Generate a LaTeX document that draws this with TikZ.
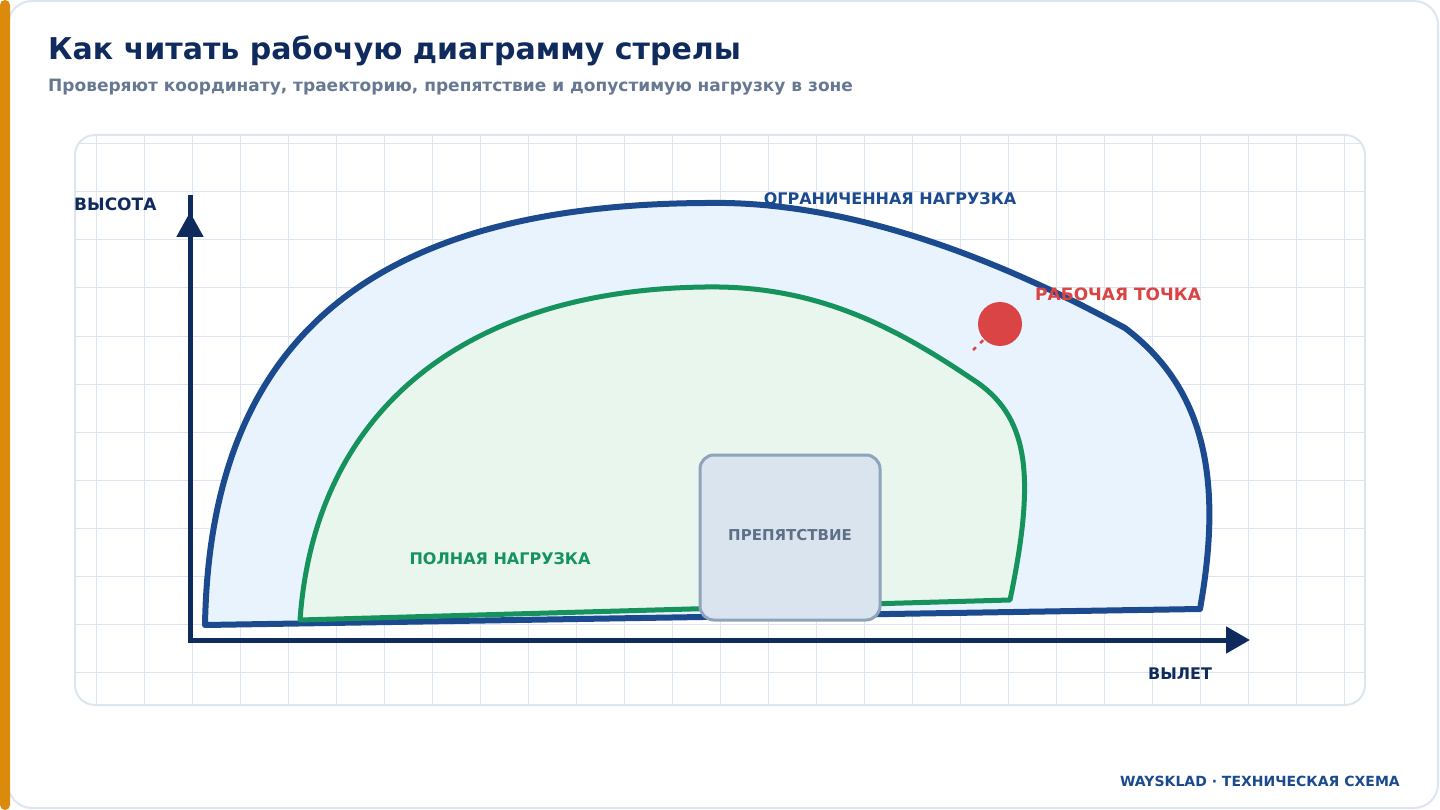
\documentclass[tikz,border=0pt]{standalone}
\usepackage{fontspec}
\setmainfont{DejaVu Sans}
\usetikzlibrary{arrows.meta,positioning}
\definecolor{navy}{HTML}{0F2A5C}
\definecolor{zoneblue}{HTML}{1B4A8F}
\definecolor{zonebluefill}{HTML}{E8F3FD}
\definecolor{zonegreen}{HTML}{16925D}
\definecolor{zonegreenfill}{HTML}{E8F6EE}
\definecolor{gridcol}{HTML}{DCE5F0}
\definecolor{obstfill}{HTML}{DAE4EF}
\definecolor{obstdraw}{HTML}{8FA3BB}
\definecolor{obsttext}{HTML}{5F6F88}
\definecolor{subtext}{HTML}{667892}
\definecolor{pointred}{HTML}{DB4444}
\definecolor{accent}{HTML}{DB8B0B}
\tikzset{
  gridline/.style={gridcol,line width=1pt},
  axisline/.style={navy,line width=5pt},
  zonelabel/.style={font=\bfseries\fontsize{16}{19}\selectfont,inner sep=0pt},
}
\begin{document}
\begin{tikzpicture}[x=1pt,y=-1pt]
      \useasboundingbox (0,0) rectangle (1440,810);
      \fill[white] (0,0) rectangle (1440,810);
      \draw[gridcol,line width=2pt,fill=white,rounded corners=24pt] (8,1) rectangle (1438,808);
      \fill[accent,rounded corners=5pt] (0,0) rectangle (10,810);
      % title
      \node [anchor=base west,inner sep=0pt,text=navy,font=\bfseries\fontsize{30}{36}\selectfont] (title) at (48,60) {Как читать рабочую диаграмму стрелы};
      \node [anchor=base west,inner sep=0pt,text=subtext,font=\bfseries\fontsize{17}{20}\selectfont] (subtitle) at (48,92) {Проверяют координату, траекторию, препятствие и допустимую нагрузку в зоне};
      % panel with grid
      \draw[gridcol,line width=2pt,fill=white,rounded corners=20pt] (75,135) rectangle (1365,705);
      \begin{scope}
        \clip[rounded corners=20pt] (75,135) rectangle (1365,705);
        \foreach \x in {96,144,...,1344} \draw[gridline] (\x,135)--(\x,705);
        \foreach \y in {144,192,...,672} \draw[gridline] (75,\y)--(1365,\y);
      \end{scope}
      % zones
      \draw[zoneblue,line width=6pt,fill=zonebluefill,line join=round]
        (205,625) .. controls (210,340) and (370,205) .. (705,203)
        .. controls (850,200) and (1000,260) .. (1125,328)
        .. controls (1200,385) and (1225,470) .. (1200,609) -- cycle;
      \draw[zonegreen,line width=5pt,fill=zonegreenfill,line join=round]
        (300,620) .. controls (315,410) and (465,290) .. (705,287)
        .. controls (820,285) and (900,330) .. (978,383)
        .. controls (1030,420) and (1035,480) .. (1010,600) -- cycle;
      \draw[obstdraw,line width=3pt,fill=obstfill,rounded corners=14pt] (700,455) rectangle (880,620);
      \node [text=obsttext,font=\bfseries\fontsize{15}{18}\selectfont] (obstacle) at (790,535) {ПРЕПЯТСТВИЕ};
      % axes
      \coordinate (o) at (190,640);
      \draw[axisline] (o) -- (190,195);
      \draw[axisline,-{Triangle[length=25pt,width=26pt]}] (o) -- (190,212);
      \draw[axisline,-{Triangle[length=24pt,width=26pt]}] (187.5,640) -- (1250,640);
      \node [anchor=west,zonelabel,font=\bfseries\fontsize{17}{20}\selectfont,text=navy] (height) at (74,204) {ВЫСОТА};
      \node [zonelabel,text=navy] (reach) at (1180,674) {ВЫЛЕТ};
      % labels
      \node [zonelabel,text=zoneblue] (limited) at (890,199) {ОГРАНИЧЕННАЯ НАГРУЗКА};
      \node [zonelabel,text=zonegreen] (full) at (500,559) {ПОЛНАЯ НАГРУЗКА};
      \node [anchor=west,zonelabel,font=\bfseries\fontsize{17}{20}\selectfont,text=pointred] (pointlabel) at (1035,294) {РАБОЧАЯ ТОЧКА};
      % working point
      \node [circle,fill=pointred,minimum size=44pt,inner sep=0pt] (point) at (1000,324) {};
      \coordinate (pointtail) at (973,350);
      \draw[pointred,line width=2.5pt,dash pattern=on 4pt off 6pt] (pointtail) -- (point);
      \node [anchor=east,inner sep=0pt,text=zoneblue,font=\bfseries\fontsize{14}{17}\selectfont] (footer) at (1400,781) {WAYSKLAD · ТЕХНИЧЕСКАЯ СХЕМА};
\end{tikzpicture}
\end{document}
